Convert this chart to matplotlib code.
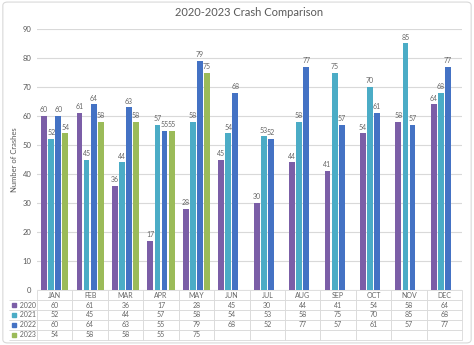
import matplotlib.pyplot as plt
from matplotlib.patches import FancyBboxPatch
import numpy as np

plt.rcParams['font.family'] = ['Lato', 'DejaVu Sans']

months = ['JAN', 'FEB', 'MAR', 'APR', 'MAY', 'JUN', 'JUL', 'AUG', 'SEP', 'OCT', 'NOV', 'DEC']
years = ['2020', '2021', '2022', '2023']
crash_2020 = [60, 61, 36, 17, 28, 45, 30, 44, 41, 54, 58, 64]
crash_2021 = [52, 45, 44, 57, 58, 54, 53, 58, 75, 70, 85, 68]
crash_2022 = [60, 64, 63, 55, 79, 68, 52, 77, 57, 61, 57, 77]
crash_2023 = [54, 58, 58, 55, 75]
series = [crash_2020, crash_2021, crash_2022, crash_2023]
colors = ['#7b5ea7', '#4bacc6', '#4472c4', '#9bbb59']
txt = '#595959'
grid = '#d9d9d9'

fig = plt.figure(figsize=(4.74, 3.45), dpi=100)
# rounded chart border
fig.patches.append(FancyBboxPatch((0.006, 0.006), 0.988, 0.988, boxstyle='round,pad=0,rounding_size=0.01',
                                  transform=fig.transFigure, fc='none', ec=grid, lw=0.8, zorder=-1))
ax = fig.add_axes([0.078, 0.159, 0.897, 0.757])

x = np.arange(len(months))
w = 0.165
offs = [-0.3, -0.1, 0.1, 0.3]
for vals, c, o in zip(series, colors, offs):
    xs = x[:len(vals)] + o
    bars = ax.bar(xs, vals, width=w, color=c, zorder=3)
    ax.bar_label(bars, labels=[str(v) for v in vals], fontsize=5, color='#666666', padding=2)

ax.set_xlim(-0.5, 11.5)
ax.set_ylim(0, 90)
ax.set_yticks(range(0, 91, 10))
ax.tick_params(axis='y', labelsize=5.5, colors=txt, length=0, pad=4)
ax.set_xticks([])
ax.yaxis.grid(True, color=grid, lw=0.8, zorder=0)
for s in ax.spines.values():
    s.set_visible(False)
ax.set_ylabel('Number of Crashes', fontsize=5.5, color=txt, labelpad=3)
ax.set_title('2020-2023 Crash Comparison', fontsize=8, color=txt, pad=9)

# data table below the axis
cell_text = [[''] + months]
for yr, vals in zip(years, series):
    row = [str(v) for v in vals] + [''] * (12 - len(vals))
    cell_text.append(['     ' + yr] + row)
lab_w = 0.065
tab = ax.table(cellText=cell_text, colWidths=[lab_w] + [1 / 12] * 12,
               bbox=[-lab_w, -0.19, 1 + lab_w, 0.19], cellLoc='center')
tab.auto_set_font_size(False)
tab.set_fontsize(5)
for (r, c), cell in tab.get_celld().items():
    cell.set_edgecolor(grid)
    cell.set_linewidth(0.6)
    cell.get_text().set_color('#666666')
    if c == 0:
        cell._loc = 'left'
        cell.PAD = 0.02
        cell.visible_edges = 'open' if r == 0 else 'BTR'
for i, c in enumerate(colors):
    ry = -0.19 + 0.19 * (3.5 - i) / 5
    ax.plot([-lab_w + 0.01], [ry], marker='s', ms=2.5, color=c, lw=0,
            transform=ax.transAxes, clip_on=False)

fig.savefig('out.png', dpi=100)
